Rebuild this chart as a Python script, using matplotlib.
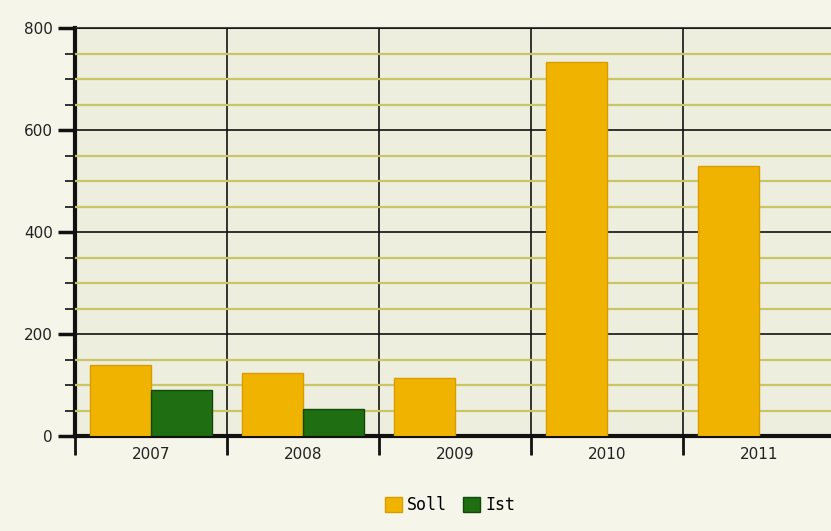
import matplotlib.pyplot as plt
import numpy as np
from matplotlib.ticker import MultipleLocator, FixedLocator, NullFormatter

years = ['2007', '2008', '2009', '2010', '2011']
soll = [139, 123, 113, 733, 529]
ist = [90, 53, 0, 0, 0]

soll_color = '#f0b400'
ist_color = '#1f6e12'

fig = plt.figure(figsize=(8.31, 5.31), dpi=100)
fig.patch.set_facecolor('#f5f5ea')
ax = fig.add_axes([75/831, 1 - 436/531, 760/831, 408/531])
ax.set_facecolor('#eeeedf')

x = np.arange(len(years))
ax.bar(x - 0.2, soll, width=0.4, color=soll_color, edgecolor='#d99c00', linewidth=1, label='Soll', zorder=3)
ist_x = [xi + 0.2 for xi, v in zip(x, ist) if v > 0]
ist_v = [v for v in ist if v > 0]
ax.bar(ist_x, ist_v, width=0.4, color=ist_color, edgecolor='#114a08', linewidth=1, label='Ist', zorder=3)

ax.set_xlim(-0.5, len(years) - 0.5)
ax.set_ylim(0, 800)

# y grid: black every 200, olive every 50
ax.yaxis.set_major_locator(MultipleLocator(200))
ax.yaxis.set_minor_locator(MultipleLocator(50))
ax.grid(axis='y', which='minor', color='#c8c666', linewidth=1.6, zorder=1)
ax.grid(axis='y', which='major', color='#111111', linewidth=1.2, zorder=2)

# x: labels at centres, separators/ticks between categories
ax.xaxis.set_major_locator(FixedLocator(np.arange(-0.5, len(years), 1.0)))
ax.xaxis.set_major_formatter(NullFormatter())
ax.xaxis.set_minor_locator(FixedLocator(x))
ax.set_xticklabels(years, minor=True)
ax.tick_params(axis='x', which='minor', length=0, pad=8, labelsize=11, colors='#222222')
ax.tick_params(axis='x', which='major', direction='out', length=14, width=2, color='#111111')
ax.grid(axis='x', which='major', color='#111111', linewidth=1.2, zorder=2)

ax.tick_params(axis='y', which='major', direction='out', length=12, width=2.5, color='#111111',
               labelsize=11, labelcolor='#222222', pad=4)
ax.tick_params(axis='y', which='minor', direction='out', length=7, width=1.2, color='#111111')

for side in ['left', 'bottom']:
    ax.spines[side].set_linewidth(3)
    ax.spines[side].set_color('#111111')
ax.spines['top'].set_color('#444444')
ax.spines['top'].set_linewidth(1.5)
ax.spines['right'].set_visible(False)
ax.set_axisbelow(False)

fig.legend(loc='center', bbox_to_anchor=(450/831, 1 - 505/531), ncol=2, frameon=False,
           prop={'family': 'DejaVu Sans Mono', 'size': 12}, handlelength=1.0, handleheight=1.0,
           handletextpad=0.3, columnspacing=1.0)

fig.savefig('out.png', dpi=100, facecolor=fig.get_facecolor())
